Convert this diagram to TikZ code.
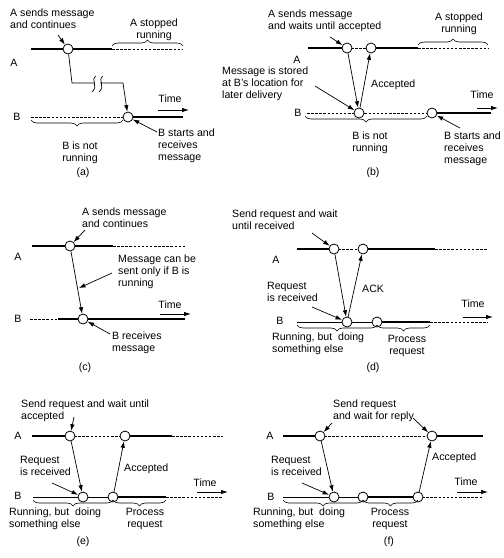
\documentclass[tikz,border=0pt]{standalone}
\usepackage{fontspec}
\setmainfont{Liberation Sans}
\usetikzlibrary{arrows.meta,decorations.pathreplacing}
\begin{document}
\begin{tikzpicture}[x=1pt,y=-1pt,
  every node/.style={font=\fontsize{10.6}{11.6}\selectfont, inner sep=0pt},
  thk/.style={line width=2.8pt},
  thn/.style={line width=0.8pt},
  dsh/.style={line width=0.7pt, dash pattern=on 2.5pt off 1.6pt},
  evt/.style={circle, draw, fill=white, minimum size=10pt, line width=0.8pt},
  msg/.style={line width=0.7pt, -{Latex[length=6.5pt,width=4.5pt]}},
  ptr/.style={line width=0.7pt, -{Latex[length=6.5pt,width=4.5pt]}},
  timearr/.style={line width=0.8pt, -{Latex[length=7pt,width=4.5pt]}},
  txt/.style={anchor=north west, align=left},
  ctxt/.style={anchor=north, align=center},
  brup/.style={line width=0.6pt, decorate, decoration={brace, amplitude=6pt}},
  brdn/.style={line width=0.6pt, decorate, decoration={brace, amplitude=6pt, mirror}}
]
\path[use as bounding box] (0,0) rectangle (504,558);

% ================= (a) =================
\draw[thk] (31,49) -- (112,49);
\draw[dsh] (112,49) -- (183,49);
\node[evt] (Aa) at (68,49) {};
\draw[brup] (112,46) -- (183,46);
\node[ctxt] (ta1) at (154,19) {A stopped\\running};
\node[txt] (ta2) at (10,9) {A sends message\\and continues};
\coordinate (pa1) at (58,35);
\draw[ptr] (pa1) -- (Aa);
\node (la1) at (14,63) {A};
\node (lb1) at (17,117) {B};
\draw[dsh] (31,117) -- (124,117);
\draw[thk] (128,117) -- (183,117);
\node[evt] (Ba) at (128,117) {};
\coordinate (ka1) at (72,83);
\coordinate (ka2) at (95,83);
\coordinate (ka3) at (100,83);
\coordinate (ka4) at (123,83);
\draw[line width=0.7pt] (Aa) -- (ka1) -- (ka2);
\draw[msg] (ka3) -- (ka4) -- (Ba);
\draw[line width=0.7pt] (96,76) .. controls (90,80) and (99,86) .. (92,92);
\draw[line width=0.7pt] (103,76) .. controls (97,80) and (106,86) .. (99,92);
\node (tma) at (170,99) {Time};
\coordinate (tma1) at (158,110);
\coordinate (tma2) at (189,110);
\draw[timearr] (tma1) -- (tma2);
\draw[brdn] (31,120) -- (123,120);
\node[ctxt] (ta3) at (80,142) {B is not\\running};
\node[txt] (ta4) at (158,129) {B starts and\\receives\\message};
\coordinate (pa2) at (157,132);
\draw[ptr] (pa2) -- (Ba);
\node (capa) at (83,173) {(a)};

% ================= (b) =================
\draw[thk] (308,48) -- (347,48);
\draw[dsh] (347,48) -- (371,48);
\draw[thk] (371,48) -- (418,48);
\draw[dsh] (418,48) -- (488,48);
\node[evt] (Ab1) at (347,48) {};
\node[evt] (Ab2) at (371,48) {};
\draw[brup] (418,45) -- (488,45);
\node[ctxt] (tb1) at (459,13) {A stopped\\running};
\node[txt] (tb2) at (268,10) {A sends message\\and waits until accepted};
\coordinate (pb1) at (330,37);
\draw[ptr] (pb1) -- (Ab1);
\node (la2) at (297,60) {A};
\node[txt] (tb3) at (222,67) {Message is stored\\at B's location for\\later delivery};
\node (lb2) at (298,113) {B};
\draw[dsh] (307,113) -- (432,113);
\draw[thk] (432,113) -- (491,113);
\node[evt] (Bb1) at (359,113) {};
\node[evt] (Bb2) at (432,113) {};
\coordinate (pb2) at (315,86);
\draw[ptr] (pb2) -- (Bb1);
\draw[msg] (Ab1) -- (Bb1);
\draw[msg] (Bb1) -- (Ab2);
\node[txt] (tb4) at (371,80) {Accepted};
\node (tmb) at (482,95) {Time};
\coordinate (tmb1) at (477,108);
\coordinate (tmb2) at (498,108);
\draw[timearr] (tmb1) -- (tmb2);
\draw[brdn] (305,116) -- (427,116);
\node[ctxt] (tb5) at (370,132) {B is not\\running};
\node[txt] (tb6) at (444,132) {B starts and\\receives\\message};
\coordinate (pb3) at (460,128);
\draw[ptr] (pb3) -- (Bb2);
\node (capb) at (373,173) {(b)};

% ================= (c) =================
\draw[thk] (32,246) -- (113,246);
\draw[dsh] (113,246) -- (185,246);
\node[evt] (Ac) at (70,246) {};
\node[txt] (tc1) at (82,208) {A sends message\\and continues};
\coordinate (pc1) at (85,230);
\draw[ptr] (pc1) -- (Ac);
\node (la3) at (18,257) {A};
\draw[dsh] (30,319) -- (58,319);
\draw[thk] (58,319) -- (185,319);
\node[evt] (Bc) at (83,319) {};
\draw[msg] (Ac) -- (Bc);
\node[txt] (tc2) at (118,255) {Message can be\\sent only if B is\\running};
\coordinate (pc2) at (112,273);
\coordinate (pc3) at (79,288);
\draw[ptr] (pc2) -- (pc3);
\node (lb3) at (18,319) {B};
\node (tmc) at (170,305) {Time};
\coordinate (tmc1) at (160,314);
\coordinate (tmc2) at (191,314);
\draw[timearr] (tmc1) -- (tmc2);
\node[txt] (tc3) at (112,332) {B receives\\message};
\coordinate (pc4) at (110,334);
\draw[ptr] (pc4) -- (Bc);
\node (capc) at (85,368) {(c)};

% ================= (d) =================
\node[txt] (td1) at (232,210) {Send request and wait\\until received};
\draw[thk] (297,249) -- (334,249);
\draw[dsh] (334,249) -- (363,249);
\draw[thk] (363,249) -- (435,249);
\draw[dsh] (435,249) -- (488,249);
\node[evt] (Ad1) at (334,249) {};
\node[evt] (Ad2) at (363,249) {};
\coordinate (pd1) at (312,233);
\draw[ptr] (pd1) -- (Ad1);
\node (la4) at (276,260) {A};
\draw[thn] (297,322) -- (377,322);
\draw[thk] (377,322) -- (430,322);
\draw[dsh] (430,322) -- (488,322);
\node[evt] (Bd1) at (347,322) {};
\node[evt] (Bd2) at (377,322) {};
\node (lb4) at (280,321) {B};
\draw[msg] (Ad1) -- (Bd1);
\draw[msg] (Bd1) -- (Ad2);
\node[txt] (td2) at (362,285) {ACK};
\node[txt] (td3) at (267,282) {Request\\is received};
\coordinate (pd2) at (312,307);
\draw[ptr] (pd2) -- (Bd1);
\node (tmd) at (473,304) {Time};
\coordinate (tmd1) at (463,317);
\coordinate (tmd2) at (493,317);
\draw[timearr] (tmd1) -- (tmd2);
\draw[brdn] (297,325) -- (377,325);
\draw[brdn] (377,325) -- (430,325);
\node[txt] (td4) at (272,333) {Running, but\ \ doing\\something else};
\node[ctxt] (td5) at (407,335) {Process\\request};
\node (capd) at (373,368) {(d)};

% ================= (e) =================
\node[txt] (te1) at (21,400) {Send request and wait until\\accepted};
\draw[thk] (32,436) -- (70,436);
\draw[dsh] (70,436) -- (125,436);
\draw[thk] (125,436) -- (172,436);
\draw[dsh] (172,436) -- (223,436);
\node[evt] (Ae1) at (70,436) {};
\node[evt] (Ae2) at (125,436) {};
\coordinate (pe1) at (74,417);
\draw[ptr] (pe1) -- (Ae1);
\node (la5) at (18,436) {A};
\draw[thn] (33,497) -- (113,497);
\draw[thk] (113,497) -- (166,497);
\draw[dsh] (166,497) -- (223,497);
\node[evt] (Be1) at (83,497) {};
\node[evt] (Be2) at (113,497) {};
\node (lb5) at (18,496) {B};
\draw[msg] (Ae1) -- (Be1);
\draw[msg] (Be2) -- (Ae2);
\node[txt] (te2) at (124,464) {Accepted};
\node[txt] (te3) at (20,456) {Request\\is received};
\coordinate (pe2) at (52,483);
\draw[ptr] (pe2) -- (Be1);
\node (tme) at (205,483) {Time};
\coordinate (tme1) at (197,492);
\coordinate (tme2) at (228,492);
\draw[timearr] (tme1) -- (tme2);
\draw[brdn] (33,500) -- (113,500);
\draw[brdn] (113,500) -- (166,500);
\node[txt] (te4) at (9,508) {Running, but\ \ doing\\something else};
\node[ctxt] (te5) at (145,508) {Process\\request};
\node (cape) at (83,542) {(e)};

% ================= (f) =================
\node[txt] (tf1) at (333,400) {Send request\\and wait for reply};
\draw[thk] (283,436) -- (320,436);
\draw[dsh] (320,436) -- (432,436);
\draw[thk] (432,436) -- (483,436);
\node[evt] (Af1) at (320,436) {};
\node[evt] (Af2) at (432,436) {};
\coordinate (pf1) at (332,423);
\coordinate (pf2) at (413,418);
\draw[ptr] (pf1) -- (Af1);
\draw[ptr] (pf2) -- (Af2);
\node (la6) at (270,436) {A};
\draw[thn] (283,497) -- (363,497);
\draw[thk] (363,497) -- (418,497);
\draw[dsh] (418,497) -- (483,497);
\node[evt] (Bf1) at (334,497) {};
\node[evt] (Bf2) at (363,497) {};
\node[evt] (Bf3) at (418,497) {};
\node (lb6) at (271,497) {B};
\draw[msg] (Af1) -- (Bf1);
\draw[msg] (Bf3) -- (Af2);
\node[txt] (tf2) at (432,453) {Accepted};
\node[txt] (tf3) at (271,456) {Request\\is received};
\coordinate (pf3) at (302,483);
\draw[ptr] (pf3) -- (Bf1);
\node (tmf) at (466,482) {Time};
\coordinate (tmf1) at (457,492);
\coordinate (tmf2) at (488,492);
\draw[timearr] (tmf1) -- (tmf2);
\draw[brdn] (283,500) -- (363,500);
\draw[brdn] (363,500) -- (418,500);
\node[txt] (tf4) at (253,508) {Running, but\ \ doing\\something else};
\node[ctxt] (tf5) at (390,508) {Process\\request};
\node (capf) at (389,542) {(f)};
\end{tikzpicture}
\end{document}
